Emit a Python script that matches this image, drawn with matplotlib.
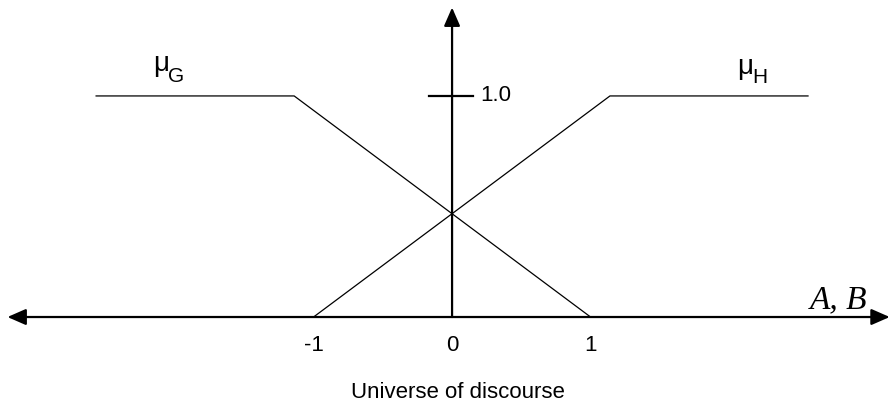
import matplotlib.pyplot as plt

plt.rcParams['font.family'] = ['Liberation Sans', 'DejaVu Sans']

# membership functions (trapezoid shoulders)
mu_g_x = [-2.57, -1.14, 1.0]
mu_g_y = [1.0, 1.0, 0.0]
mu_h_x = [-1.0, 1.14, 2.57]
mu_h_y = [0.0, 1.0, 1.0]

tick_pos = [-1, 0, 1]
tick_labels = ['-1', '0', '1']

fig = plt.figure(figsize=(8.9, 4.05), dpi=100)
ax = fig.add_axes([0, 0, 1, 1])
ax.set_xlim(-3.264, 3.162)
ax.set_ylim(-0.398, 1.434)
ax.axis('off')

# universe of discourse axis (double arrow) and membership axis
arrow = dict(color='black', lw=1.6, mutation_scale=14, shrinkA=0, shrinkB=0)
ax.annotate('', xy=(3.16, 0), xytext=(-3.21, 0),
            arrowprops=dict(arrowstyle='<|-|>,head_length=0.8,head_width=0.35', **arrow))
ax.annotate('', xy=(0, 1.40), xytext=(0, 0),
            arrowprops=dict(arrowstyle='-|>,head_length=0.8,head_width=0.35', **arrow))

# tick mark at 1.0
ax.plot([-0.17, 0.15], [1.0, 1.0], color='black', lw=1.6)
ax.text(0.2, 1.0, '1.0', fontsize=16, va='center', ha='left')

ax.plot(mu_g_x, mu_g_y, color='black', lw=0.9)
ax.plot(mu_h_x, mu_h_y, color='black', lw=0.9)

for p, lab in zip(tick_pos, tick_labels):
    ax.text(p, -0.127, lab, fontsize=16, ha='center', va='center')

ax.text(0.04, -0.34, 'Universe of discourse', fontsize=16, ha='center', va='center')

# mu labels with dropped subscripts
ax.text(-2.159, 1.113, 'μ', fontsize=20, ha='left', va='baseline')
ax.text(-2.05, 1.063, 'G', fontsize=15, ha='left', va='baseline')
ax.text(2.06, 1.10, 'μ', fontsize=20, ha='left', va='baseline')
ax.text(2.17, 1.059, 'H', fontsize=15, ha='left', va='baseline')

ax.text(2.79, 0.075, 'A, B', fontsize=24, family='Liberation Serif', style='italic',
        ha='center', va='center')

fig.savefig('out.png', dpi=100)
